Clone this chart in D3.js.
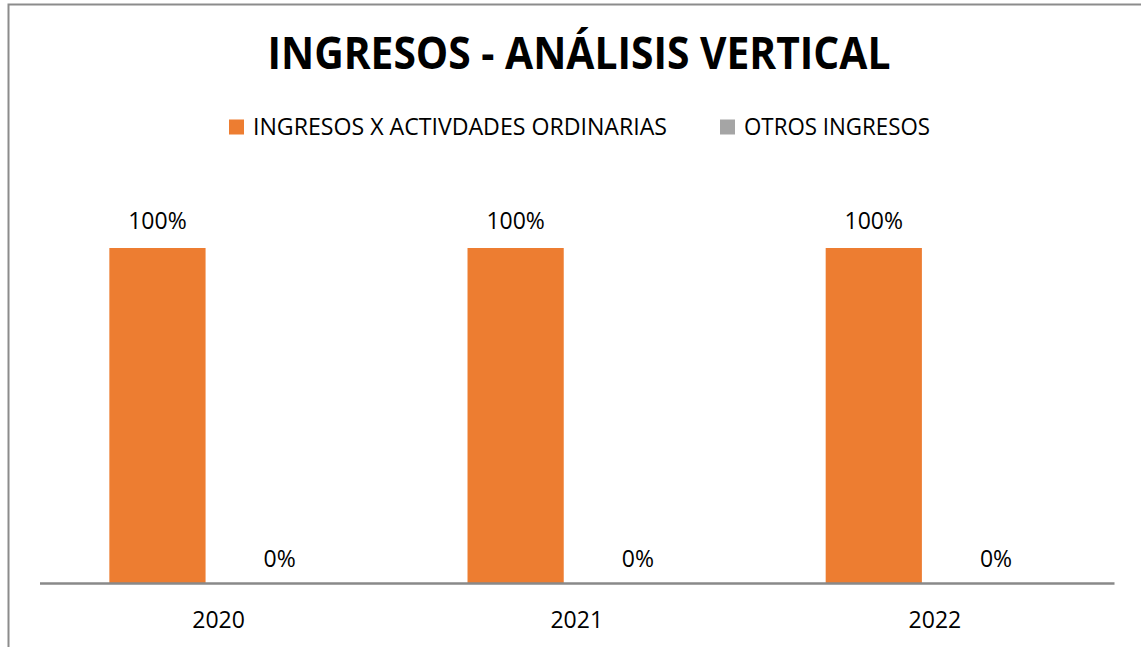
<!DOCTYPE html>
<html>
<head>
<meta charset="utf-8">
<script src="https://cdn.jsdelivr.net/npm/d3@7"></script>
<style>
  body { margin: 0; background: #fff; }
  text { font-family: "Open Sans", "Noto Sans", sans-serif; fill: #000; }
</style>
</head>
<body>
<div id="chart"></div>
<script>
var svgWidth = 1141;
var svgHeight = 647;

// Data
var years = ["2020", "2021", "2022"];
var seriesNames = ["INGRESOS X ACTIVDADES ORDINARIAS", "OTROS INGRESOS"];
var ordinarias = [1, 1, 1];
var otros = [0, 0, 0];
var colors = ["#ED7D31", "#A5A5A5"];

var rows = years.map(function(y, i) {
  return { year: y, values: [ordinarias[i], otros[i]] };
});

var svg = d3.select("#chart")
  .append("svg")
  .attr("width", svgWidth)
  .attr("height", svgHeight);

// chart border (right / bottom fall outside the picture)
svg.append("rect")
  .attr("x", 8.5)
  .attr("y", 4.5)
  .attr("width", 1160)
  .attr("height", 680)
  .attr("fill", "#fff")
  .attr("stroke", "#8c8c8c")
  .attr("stroke-width", 2);

// Title
svg.append("text")
  .attr("x", 579)
  .attr("y", 69)
  .attr("text-anchor", "middle")
  .attr("font-size", 44)
  .attr("font-weight", "bold")
  .attr("textLength", 623)
  .attr("lengthAdjust", "spacingAndGlyphs")
  .text("INGRESOS - ANÁLISIS VERTICAL");

// Legend
var legendItems = [
  { x: 229, textLen: 414 },
  { x: 720, textLen: 186 }
];
legendItems.forEach(function(item, i) {
  svg.append("rect")
    .attr("x", item.x)
    .attr("y", 119.5)
    .attr("width", 15)
    .attr("height", 15)
    .attr("fill", colors[i]);
  svg.append("text")
    .attr("x", item.x + 24)
    .attr("y", 135)
    .attr("font-size", 23)
    .attr("textLength", item.textLen)
    .attr("lengthAdjust", "spacingAndGlyphs")
    .text(seriesNames[i]);
});

// Scales
var x0 = d3.scaleBand()
  .domain(years)
  .range([39.5, 1114])
  .paddingInner(0.39)
  .paddingOuter(0.195);

var x1 = d3.scaleBand()
  .domain([0, 1])
  .range([0, x0.bandwidth()])
  .paddingInner(0.213);

var yScale = d3.scaleLinear()
  .domain([0, 1])
  .range([583, 248]);

var groups = svg.selectAll("g.year")
  .data(rows)
  .enter()
  .append("g")
  .attr("class", "year")
  .attr("transform", d => `translate(${x0(d.year)}, 0)`);

groups.selectAll("rect")
  .data(d => d.values.map((v, i) => ({ v: v, i: i })))
  .enter()
  .append("rect")
  .attr("x", d => x1(d.i))
  .attr("width", x1.bandwidth())
  .attr("y", d => yScale(d.v))
  .attr("height", d => yScale(0) - yScale(d.v))
  .attr("fill", d => colors[d.i]);

groups.selectAll("text.lbl")
  .data(d => d.values.map((v, i) => ({ v: v, i: i })))
  .enter()
  .append("text")
  .attr("class", "lbl")
  .attr("x", d => x1(d.i) + x1.bandwidth() / 2)
  .attr("y", d => yScale(d.v) - (d.v === 0 ? 16 : 19))
  .attr("text-anchor", "middle")
  .attr("font-size", 23)
  .text(d => d3.format(".0%")(d.v));

// x axis
var bottomAxis = d3.axisBottom(x0).tickSize(0).tickPadding(20);
var xAxis = svg.append("g")
  .attr("transform", `translate(0, ${yScale(0)})`)
  .call(bottomAxis);
xAxis.select(".domain")
  .attr("stroke", "#898989")
  .attr("stroke-width", 2.5);
xAxis.selectAll("text")
  .attr("font-size", 23)
  .attr("font-family", "Open Sans, Noto Sans, sans-serif")
  .attr("fill", "#000")
  .attr("dy", "1.1em");
</script>
</body>
</html>
